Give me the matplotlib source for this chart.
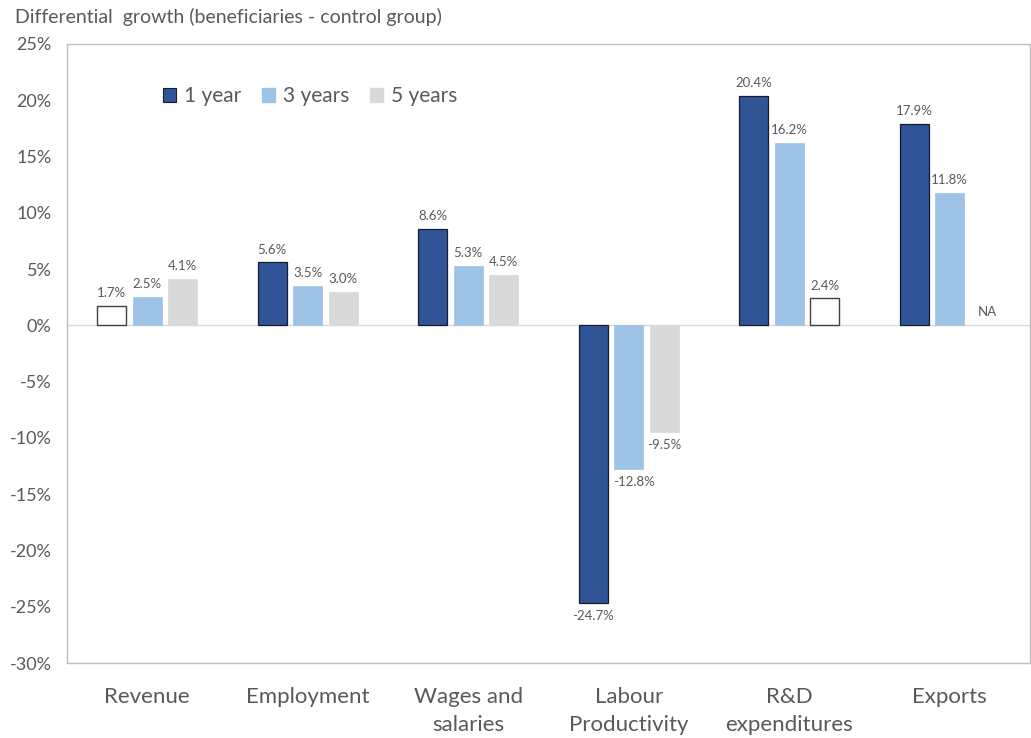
import matplotlib
matplotlib.use("Agg")
import matplotlib.pyplot as plt
import numpy as np
from matplotlib.patches import Patch

plt.rcParams['font.family'] = ['Lato', 'DejaVu Sans']

categories = ["Revenue", "Employment", "Wages and\nsalaries", "Labour\nProductivity", "R&D\nexpenditures", "Exports"]
series_names = ["1 year", "3 years", "5 years"]
year1 = [1.7, 5.6, 8.6, -24.7, 20.4, 17.9]
year3 = [2.5, 3.5, 5.3, -12.8, 16.2, 11.8]
year5 = [4.1, 3.0, 4.5, -9.5, 2.4, None]
# bars drawn hollow (white) in the reference
hollow = {(0, 0), (2, 4)}
yticks = list(range(-30, 30, 5))

colors = ["#2F5597", "#9DC3E6", "#D9D9D9"]
edgecols = ["#1a1a2e", "#9DC3E6", "#D9D9D9"]
text_col = "#595959"

fig = plt.figure(figsize=(10.31, 7.38), dpi=100)
ax = fig.add_axes([67/1031, 1-663/738, (1030-67)/1031, (663-44)/738])

x = np.arange(len(categories))
offsets = [-0.222, 0.0, 0.222]
width = 0.18
allseries = [year1, year3, year5]

for s, vals in enumerate(allseries):
    for i, v in enumerate(vals):
        xi = x[i] + offsets[s]
        if v is None:
            ax.text(xi + 0.01, 1.2, "NA", ha='center', va='center', fontsize=9.5, color=text_col)
            continue
        if (s, i) in hollow:
            fc, ec, lw = "white", "#404040", 1.0
        else:
            fc, ec, lw = colors[s], edgecols[s], (0.9 if s == 0 else 0.5)
        ax.bar(xi, v, width=width, color=fc, edgecolor=ec, linewidth=lw, zorder=3)
        label = f"{v:.1f}%"
        if v >= 0:
            ax.text(xi, v + 0.6, label, ha='center', va='bottom', fontsize=9.5, color=text_col)
        else:
            ax.text(xi + (0.03 if s == 1 else 0), v - 0.6, label, ha='center', va='top', fontsize=9.5, color=text_col)

ax.axhline(0, color="#D9D9D9", linewidth=1.0, zorder=2)
ax.set_xlim(-0.5, len(categories) - 0.5)
ax.set_ylim(-30, 25)
ax.set_yticks(yticks)
ax.set_yticklabels([f"{t}%" for t in yticks], fontsize=13, color=text_col)
ax.set_xticks(x)
ax.set_xticklabels(categories, fontsize=16, color=text_col, linespacing=1.5)
ax.tick_params(axis='both', length=0)
ax.tick_params(axis='x', pad=17)
ax.tick_params(axis='y', pad=11)
for sp in ax.spines.values():
    sp.set_color("#BFBFBF")
    sp.set_linewidth(1.0)

handles = [Patch(facecolor=colors[0], edgecolor="#1a1a2e", linewidth=0.8),
           Patch(facecolor=colors[1], edgecolor=colors[1]),
           Patch(facecolor=colors[2], edgecolor=colors[2])]
leg = ax.legend(handles, series_names, loc='upper left', bbox_to_anchor=(0.08, 0.962), ncol=3,
                frameon=False, fontsize=15, handlelength=0.65, handleheight=0.65,
                handletextpad=0.35, columnspacing=1.0)
for t in leg.get_texts():
    t.set_color(text_col)

fig.text(15/1031, 1-17/738, "Differential  growth (beneficiaries - control group)", fontsize=14,
         color=text_col, ha='left', va='center')

fig.savefig("out.png", dpi=100)
